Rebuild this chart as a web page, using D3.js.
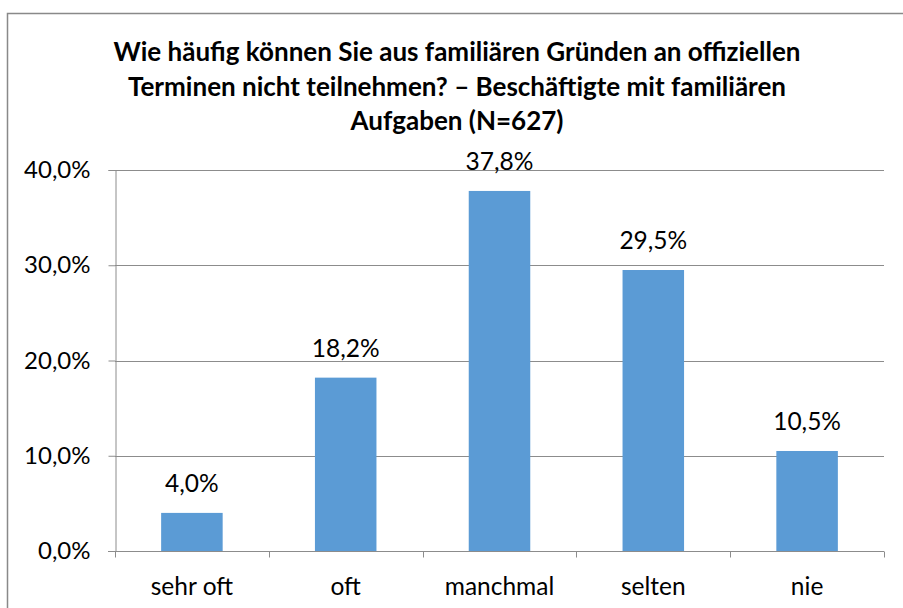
<!DOCTYPE html>
<html lang="de">
<head>
<meta charset="UTF-8">
<title>Termine</title>
<style>
  body { margin: 0; background: #fff; }
  svg { display: block; }
  text { font-family: Lato, "Open Sans", sans-serif; fill: #000; }
</style>
</head>
<body>
<div id="chart"></div>
<script src="https://d3js.org/d3.v7.min.js"></script>
<script>
// data
const categories = ["sehr oft", "oft", "manchmal", "selten", "nie"];
const values = [4.0, 18.2, 37.8, 29.5, 10.5];
const yTicks = [0, 10, 20, 30, 40];
const titleLines = [
  "Wie häufig können Sie aus familiären Gründen an offiziellen",
  "Terminen nicht teilnehmen? \u2013 Beschäftigte mit familiären",
  "Aufgaben (N=627)"
];

const width = 903, height = 608;
const margin = { left: 115, right: 19, top: 170, bottom: 57 };
const fmt = v => v.toFixed(1).replace(".", ",") + "%";

const svg = d3.select("#chart").append("svg")
  .attr("width", width)
  .attr("height", height);

// outer frame
svg.append("rect")
  .attr("x", 7.5).attr("y", 13.5)
  .attr("width", 920).attr("height", 620)
  .attr("fill", "none").attr("stroke", "#898989").attr("stroke-width", 1.5);

const x = d3.scaleBand()
  .domain(categories)
  .range([margin.left, width - margin.right])
  .paddingInner(0.6).paddingOuter(0.3);

const y = d3.scaleLinear()
  .domain([0, 40])
  .range([height - margin.bottom, margin.top]);

// gridlines
svg.append("g")
  .selectAll("line")
  .data(yTicks.slice(1))
  .join("line")
  .attr("x1", margin.left).attr("x2", width - margin.right)
  .attr("y1", d => Math.round(y(d)) + 0.5).attr("y2", d => Math.round(y(d)) + 0.5)
  .attr("stroke", "#8c8c8c").attr("stroke-width", 1);

// bars
svg.append("g")
  .selectAll("rect")
  .data(values)
  .join("rect")
  .attr("x", (d, i) => x(categories[i]))
  .attr("width", x.bandwidth())
  .attr("y", d => y(d))
  .attr("height", d => y(0) - y(d))
  .attr("fill", "#5b9bd5");

// value labels
svg.append("g")
  .selectAll("text")
  .data(values)
  .join("text")
  .attr("x", (d, i) => x(categories[i]) + x.bandwidth() / 2)
  .attr("y", d => y(d) - 21)
  .attr("text-anchor", "middle")
  .style("font-size", "24.5px")
  .text(fmt);

// y axis
const yAxis = svg.append("g")
  .attr("transform", `translate(${margin.left + 0.5},0)`)
  .call(d3.axisLeft(y).tickValues(yTicks).tickSize(7).tickPadding(18).tickFormat(fmt));
yAxis.selectAll("line, path").attr("stroke", "#8c8c8c");
yAxis.selectAll("text").style("font-size", "24px").style("font-family", "Lato, 'Open Sans', sans-serif").attr("fill", "#000");

// x axis
const xAxis = svg.append("g")
  .attr("transform", `translate(0,${Math.round(y(0)) + 0.5})`);
xAxis.append("line")
  .attr("x1", margin.left - 7).attr("x2", width - margin.right)
  .attr("stroke", "#8c8c8c");
xAxis.selectAll("line.tick")
  .data(d3.range(categories.length + 1))
  .join("line")
  .attr("class", "tick")
  .attr("x1", i => Math.round(margin.left + i * (width - margin.right - margin.left) / categories.length) + 0.5)
  .attr("x2", i => Math.round(margin.left + i * (width - margin.right - margin.left) / categories.length) + 0.5)
  .attr("y1", 0).attr("y2", 6)
  .attr("stroke", "#8c8c8c");
xAxis.selectAll("text")
  .data(categories)
  .join("text")
  .attr("x", d => x(d) + x.bandwidth() / 2)
  .attr("y", 43)
  .attr("text-anchor", "middle")
  .style("font-size", "24.5px")
  .text(d => d);

// title, sized so the first line is as wide as in the original
const title = svg.append("g")
  .style("font-weight", "bold");
const t = title.selectAll("text")
  .data(titleLines)
  .join("text")
  .attr("x", 457)
  .attr("y", (d, i) => 61 + i * 34.5)
  .attr("text-anchor", "middle")
  .style("font-size", "21px")
  .text(d => d);
const w0 = t.nodes()[0].getComputedTextLength();
t.style("font-size", (21 * 687 / w0).toFixed(2) + "px");
</script>
</body>
</html>
